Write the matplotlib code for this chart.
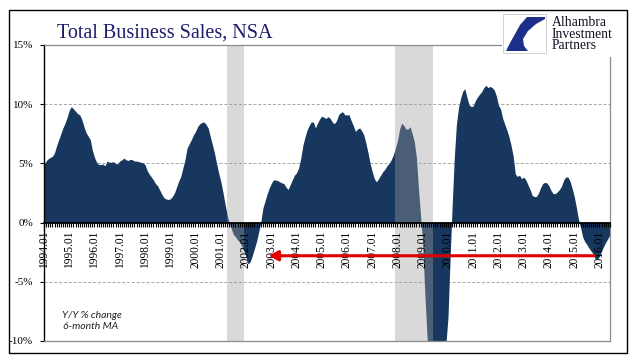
import numpy as np
import matplotlib
matplotlib.use("Agg")
import matplotlib.pyplot as plt
from matplotlib.patches import Rectangle, Polygon

# ---------------- data (monthly, Y/Y % change, 6-month MA) ----------------
start_year = 1994
v1994 = [4.9, 5.2, 5.4, 5.5, 5.6, 5.9, 6.5, 7.0, 7.5, 8.0, 8.4, 8.9]
v1995 = [9.5, 9.8, 9.6, 9.4, 9.2, 9.1, 8.7, 8.1, 7.6, 7.3, 7.0, 6.1]
v1996 = [5.5, 5.1, 4.9, 4.9, 4.95, 4.8, 5.2, 5.1, 5.1, 5.15, 5.0, 4.95]
v1997 = [5.2, 5.3, 5.45, 5.3, 5.25, 5.35, 5.3, 5.2, 5.2, 5.15, 5.1, 5.05]
v1998 = [4.9, 4.4, 4.1, 3.85, 3.6, 3.3, 3.1, 2.75, 2.4, 2.1, 2.0, 1.95]
v1999 = [2.0, 2.2, 2.5, 3.0, 3.5, 3.9, 4.6, 5.3, 6.3, 6.65, 7.0, 7.4]
v2000 = [7.7, 8.1, 8.35, 8.45, 8.5, 8.3, 8.0, 7.3, 6.6, 5.9, 5.0, 4.2]
v2001 = [3.5, 2.6, 1.6, 0.7, 0.0, -0.5, -1.0, -1.2, -1.45, -1.65, -2.0, -2.4]
v2002 = [-2.9, -3.5, -3.3, -2.8, -2.2, -1.6, -0.8, 0.0, 1.2, 1.8, 2.4, 2.9]
v2003 = [3.3, 3.6, 3.6, 3.55, 3.45, 3.35, 3.3, 3.0, 2.8, 3.2, 3.6, 4.0]
v2004 = [4.2, 4.6, 5.4, 6.5, 7.2, 7.8, 8.2, 8.5, 8.5, 8.0, 8.4, 8.75]
v2005 = [9.0, 8.9, 8.8, 8.95, 8.8, 8.5, 8.35, 8.6, 9.1, 9.3, 9.35, 9.1]
v2006 = [9.1, 9.1, 8.6, 8.2, 7.7, 7.9, 8.0, 7.75, 7.4, 6.7, 5.9, 5.0]
v2007 = [4.3, 3.7, 3.45, 3.7, 4.0, 4.3, 4.5, 4.8, 5.0, 5.3, 5.7, 6.3]
v2008 = [6.9, 7.9, 8.4, 8.2, 7.9, 7.9, 8.1, 7.5, 6.8, 5.5, 2.8, 0.5]
v2009 = [-1.8, -6.0, -9.5, -12.0, -13.5, -14.5, -14.5, -14.0, -13.0, -12.0, -11.0, -10.3]
v2010 = [-8.0, -3.0, 1.5, 5.5, 8.3, 9.7, 10.5, 11.1, 11.3, 10.6, 9.95, 9.8]
v2011 = [9.85, 10.3, 10.6, 10.85, 11.05, 11.4, 11.6, 11.4, 11.5, 11.4, 11.2, 10.7]
v2012 = [9.9, 9.6, 8.8, 8.3, 7.8, 7.25, 6.5, 5.6, 4.1, 3.9, 4.0, 3.7]
v2013 = [3.85, 3.6, 3.2, 2.8, 2.3, 2.2, 2.2, 2.5, 2.95, 3.3, 3.4, 3.35]
v2014 = [3.1, 2.7, 2.45, 2.45, 2.6, 2.8, 3.1, 3.6, 3.85, 3.85, 3.5, 2.9]
v2015 = [2.2, 1.3, 0.3, -0.4, -1.2, -1.6, -1.85, -2.15, -2.4, -2.65, -3.05, -3.1]
v2016 = [-2.85, -2.4, -2.0, -1.65, -1.35, -1.0]

values = (v1994 + v1995 + v1996 + v1997 + v1998 + v1999 + v2000 + v2001 + v2002
          + v2003 + v2004 + v2005 + v2006 + v2007 + v2008 + v2009 + v2010 + v2011
          + v2012 + v2013 + v2014 + v2015 + v2016)

recessions = [(2001.25, 2001.92), (2007.92, 2009.42)]
tick_years = list(range(1994, 2017))
tick_labels = [f"{y}.01" for y in tick_years]
y_ticks = [15, 10, 5, 0, -5, -10]
y_tick_labels = ["15%", "10%", "5%", "0%", "-5%", "-10%"]
arrow_level = -2.8
arrow_from = 2015.8
arrow_to = 2002.9

title = "Total Business Sales, NSA"
note_lines = ["Y/Y % change", "6-month MA"]
logo_lines = ["Alhambra", "Investment", "Partners"]

# ---------------- figure ----------------
W, H = 641, 358
fig = plt.figure(figsize=(W / 100, H / 100), dpi=100)
fig.patch.set_facecolor("white")


def px(x, y):
    return (x / W, 1 - y / H)


ax = fig.add_axes([44 / W, 1 - 341 / H, (610 - 44) / W, (341 - 45) / H])
t = start_year + np.arange(len(values)) / 12.0
ax.set_xlim(1994.0, t[-1])
ax.set_ylim(-10, 15)
ax.set_axisbelow(False)

navy = "#17375E"
ax.fill_between(t, 0, values, color=navy, lw=0, zorder=1)

for a, b in recessions:
    ax.axvspan(a, b, color="#9d9d9d", alpha=0.39, lw=0, zorder=2)

for g in [10, 5, -5]:
    ax.axhline(g, color="#a6a6a6", lw=0.7, ls=(0, (3, 2)), zorder=0.5)
ax.axhline(-10, color="#8c8c8c", lw=0.9, zorder=3, clip_on=False)

ax.spines["bottom"].set_position(("data", 0))
ax.spines["bottom"].set_color("black")
ax.spines["bottom"].set_linewidth(1.3)
ax.spines["left"].set_color("black")
ax.spines["left"].set_linewidth(1.0)
for s in ["top", "right"]:
    ax.spines[s].set_color("#8c8c8c")
    ax.spines[s].set_linewidth(0.9)

serif = "Liberation Serif"
ax.set_xticks(tick_years)
ax.set_xticklabels(tick_labels, rotation=90, fontsize=8.3, family=serif)
months = start_year + np.arange(0, len(values)) / 12.0
ax.set_xticks(months, minor=True)
ax.tick_params(axis="x", which="both", direction="out", length=3, width=0.8,
               color="black", pad=3)
ax.set_yticks(y_ticks)
ax.set_yticklabels(y_tick_labels, fontsize=8, family=serif)
ax.tick_params(axis="y", direction="out", length=3, width=0.8, color="black", pad=5)

ax.annotate("", xy=(arrow_to, arrow_level), xytext=(arrow_from, arrow_level),
            arrowprops=dict(arrowstyle="-|>,head_length=0.55,head_width=0.3",
                            color="#e00000", lw=2.2, shrinkA=0, shrinkB=0),
            zorder=6)

# note
fig.text(*px(62, 318), note_lines[0], fontsize=7.5, family="Lato", style="italic",
         color="#222222", va="baseline", ha="left")
fig.text(*px(63, 329), note_lines[1], fontsize=7.5, family="Lato", style="italic",
         color="#222222", va="baseline", ha="left")

# title
fig.text(*px(57, 38), title, fontsize=14.5, family=serif, color="#1c1c6a",
         va="baseline", ha="left")

# logo area cover
fig.add_artist(Rectangle(px(502, 57), (615 - 502) / W, (57 - 11) / H,
                         transform=fig.transFigure, facecolor="white",
                         edgecolor="none", zorder=10))
fig.add_artist(Rectangle(px(503, 53), (546 - 503) / W, (53 - 14) / H,
                         transform=fig.transFigure, facecolor="white",
                         edgecolor="#d0d0d0", lw=0.7, zorder=11))
logo_pts = [(527, 17), (545, 17), (545, 19), (536, 24), (528, 31), (523, 39),
            (524, 46), (528, 51), (506, 51), (510, 43), (515, 34), (520, 25)]
fig.add_artist(Polygon([px(x, y) for x, y in logo_pts], closed=True,
                       transform=fig.transFigure, facecolor="#1d2f8a",
                       edgecolor="none", zorder=12))
for i, line in enumerate(logo_lines):
    fig.text(*px(552, 26 + i * 11.5), line, fontsize=9.8, family=serif,
             color="#111122", va="baseline", ha="left", zorder=13)

# outer frame
fig.add_artist(Rectangle(px(9, 353), (627 - 9) / W, (353 - 10) / H,
                         transform=fig.transFigure, fill=False,
                         edgecolor="black", lw=1.0, zorder=20))

fig.savefig("out.png", dpi=100)
